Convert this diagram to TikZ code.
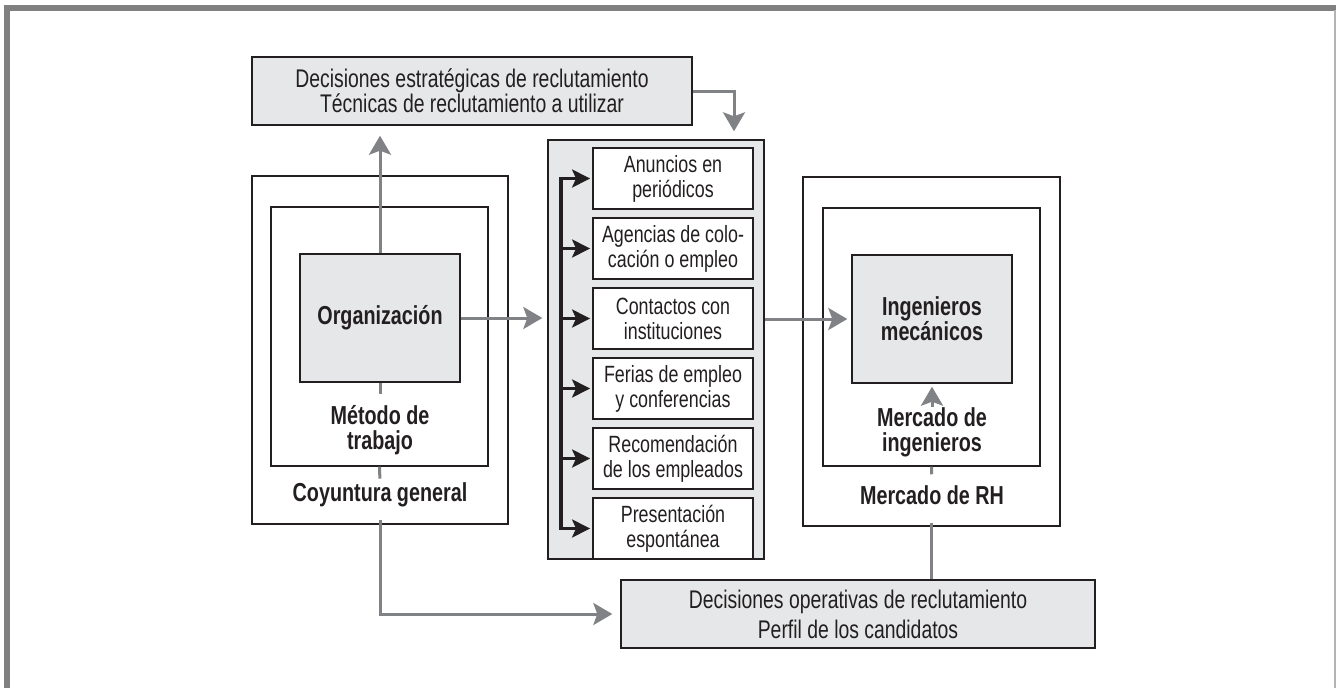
\documentclass[tikz,border=0pt]{standalone}
\usepackage{fontspec}
\setmainfont{Liberation Sans}[FakeStretch=0.76]
\usetikzlibrary{positioning,arrows.meta}
\definecolor{paleGray}{RGB}{230,231,232}
\definecolor{arrowGray}{RGB}{128,130,133}
\definecolor{inkDark}{RGB}{35,31,32}
\definecolor{frameGray}{RGB}{128,128,128}
\definecolor{edgeGray}{RGB}{180,180,180}

\begin{document}
\begin{tikzpicture}[x=1pt,y=-1pt,every node/.style={align=center,text=inkDark,inner sep=0pt},
  grayfill/.style={draw=inkDark,line width=1.4pt,fill=paleGray},
  plainbox/.style={draw=inkDark,line width=1.3pt},
  subbox/.style={draw=inkDark,line width=1.8pt,fill=white,minimum width=160pt,minimum height=61pt,font=\fontsize{23.5}{25}\selectfont},
  boldlabel/.style={font=\fontsize{26}{25}\selectfont\bfseries},
  gline/.style={draw=arrowGray,line width=3pt},
  garrow/.style={gline,-{Stealth[length=19pt,width=22pt,inset=4pt]}},
  barrow/.style={draw=inkDark,line width=3.2pt,-{Stealth[length=18pt,width=18pt,inset=4pt]}}]
\useasboundingbox (0,0) rectangle (1336,688);
% frame
\fill[frameGray] (4,5) rectangle (1336,10.7);
\fill[frameGray] (4,5) rectangle (10,688);
\draw[edgeGray,line width=1.5pt] (1335,10) -- (1335,688);

\node[grayfill,minimum width=440pt,minimum height=68pt,font=\fontsize{25.5}{23}\selectfont] (est) at (472,91) {Decisiones estratégicas de reclutamiento\\Técnicas de reclutamiento a utilizar};

% left: organizacion
\node[plainbox,minimum width=256pt,minimum height=348pt] (lout) at (380,350) {};
\node[plainbox,minimum width=217pt,minimum height=259pt] (lin) at (379.5,336.5) {};
\node[grayfill,minimum width=160pt,minimum height=128pt,boldlabel] (org) at (380,318) {Organización};
\node[boldlabel] (met) at (380,430) {Método de\\trabajo};
\node[boldlabel] (coy) at (380,495) {Coyuntura general};

% middle: tecnicas
\node[grayfill,minimum width=216pt,minimum height=419pt] (mid) at (656,349.5) {};
\node[subbox] (s1) at (673,178.5) {Anuncios en\\periódicos};
\node[subbox,below=7.2pt of s1] (s2) {Agencias de colo-\\cación o empleo};
\node[subbox,below=7.2pt of s2] (s3) {Contactos con\\instituciones};
\node[subbox,below=7.2pt of s3] (s4) {Ferias de empleo\\y conferencias};
\node[subbox,below=7.2pt of s4] (s5) {Recomendación\\de los empleados};
\node[subbox,below=7.2pt of s5] (s6) {Presentación\\espontánea};
\coordinate (rail) at (561,0);
\draw[inkDark,line width=3.2pt,line cap=rect] (rail |- s1.west) -- (rail |- s6.west);
\draw[barrow,shorten >=2pt] (rail |- s1.west) -- (s1.west);\draw[barrow,shorten >=2pt] (rail |- s2.west) -- (s2.west);
\draw[barrow,shorten >=2pt] (rail |- s3.west) -- (s3.west);\draw[barrow,shorten >=2pt] (rail |- s4.west) -- (s4.west);
\draw[barrow,shorten >=2pt] (rail |- s5.west) -- (s5.west);\draw[barrow,shorten >=2pt] (rail |- s6.west) -- (s6.west);

% right: mercado
\node[plainbox,minimum width=257pt,minimum height=349pt] (rout) at (931.5,351.5) {};
\node[plainbox,minimum width=217pt,minimum height=258pt] (rin) at (931.5,337) {};
\node[grayfill,minimum width=160pt,minimum height=128pt,boldlabel] (ing) at (932,319) {Ingenieros\\mecánicos};
\node[boldlabel] (mi) at (932,432) {Mercado de\\ingenieros};
\node[boldlabel] (mrh) at (932,495) {Mercado de RH};

\node[grayfill,minimum width=474pt,minimum height=68pt,font=\fontsize{25.5}{30}\selectfont] (ope) at (858,614) {Decisiones operativas de reclutamiento\\Perfil de los candidatos};

% connectors
\draw[garrow,shorten >=10pt] (org.north) -- (org.north |- est.south);
\draw[garrow,shorten >=8pt] (est.east) -| ([xshift=78pt]mid.north);
\draw[garrow,shorten >=5pt] (org.east) -- (org.east -| mid.west);
\draw[garrow,shorten >=4pt] (mid.east |- ing.west) -- (ing.west);
\draw[gline,shorten >=11pt] (org.south) -- (met.north);
\draw[gline,shorten >=4pt] (lin.south) -- (coy.north);
\draw[garrow,shorten >=3pt] (mi.north) -- (ing.south);
\draw[gline,shorten >=11pt] (rin.south) -- (mrh.north);
\draw[garrow,shorten >=8pt] ([yshift=5pt]lout.south) |- (ope.west);
\draw[gline] ([yshift=4pt]rout.south) -- (rout.south |- ope.north);
\end{tikzpicture}
\end{document}
